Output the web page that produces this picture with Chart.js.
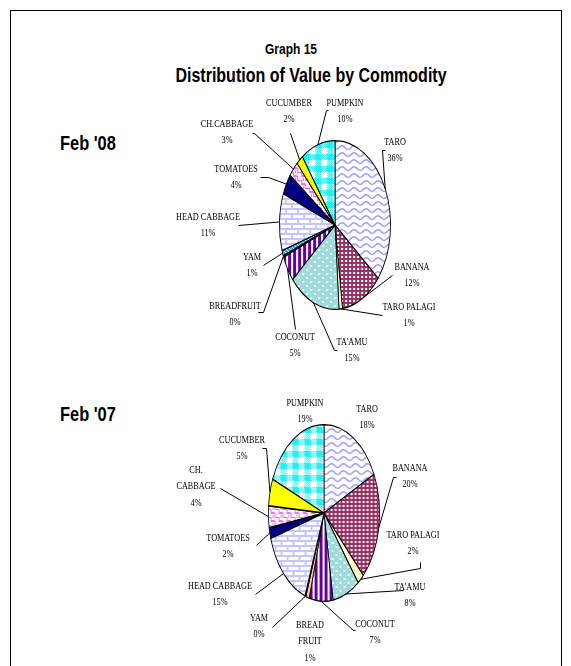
<!DOCTYPE html>
<html lang="en">
<head>
<meta charset="UTF-8"/>
<title>Graph 15 - Distribution of Value by Commodity</title>
<script src="https://cdn.jsdelivr.net/npm/chart.js"></script>
<style>
  html, body { margin: 0; padding: 0; background: #fff; }
  body { width: 571px; height: 666px; position: relative; overflow: hidden; font-family: 'Liberation Sans', Arial, sans-serif; }
  .frame { position: absolute; left: 10px; top: 10px; width: 550px; height: 720px; border: 1px solid #000; }
  .hd { position: absolute; font-weight: bold; white-space: nowrap; line-height: 1; color: #000; }
  .ctr { transform: translate(-50%, -50%) scaleX(0.8); }
  .lft { transform: translateY(-50%) scaleX(0.82); transform-origin: left center; }
  canvas { position: absolute; }
</style>
</head>
<body>
  <div class="frame"></div>
  <div class="hd ctr" style="left:291px; top:48px; font-size:15px;">Graph 15</div>
  <div class="hd ctr" style="left:311px; top:75px; font-size:20px;">Distribution of Value by Commodity</div>
  <div class="hd lft" style="left:60px; top:143px; font-size:20px;">Feb '08</div>
  <div class="hd lft" style="left:60px; top:414px; font-size:20px;">Feb '07</div>
  <canvas id="pie08" width="330" height="292" style="left:150px; top:88px;"></canvas>
  <canvas id="pie07" width="330" height="281" style="left:150px; top:385px;"></canvas>

<script>
// ---- data ----
const labels08 = ['TARO', 'BANANA', 'TARO PALAGI', "TA'AMU", 'COCONUT', 'BREADFRUIT', 'YAM',
                  'HEAD CABBAGE', 'TOMATOES', 'CH.CABBAGE', 'CUCUMBER', 'PUMPKIN'];
const values08 = [36, 12, 1, 15, 5, 0.3, 1, 11, 4, 3, 2, 10];

const labels07 = ['TARO', 'BANANA', 'TARO PALAGI', "TA'AMU", 'COCONUT', 'BREAD\nFRUIT', 'YAM',
                  'HEAD CABBAGE', 'TOMATOES', 'CH.\nCABBAGE', 'CUCUMBER', 'PUMPKIN'];
const values07 = [18, 20, 2, 8, 7, 1, 0.3, 15, 2, 4, 5, 19];

// ---- label placement, relative to pie centre: text = first line centre, line = leader points ----
const layout08 = [
  { text: [60, -83],   line: [[50, -75], [47, -75]] },
  { text: [77, 42],    line: [[57, 50]] },
  { text: [74, 82],    line: [[47, 90]] },
  { text: [17, 117],   line: [[2, 125], [-1, 125]] },
  { text: [-40, 112],  line: [[-40, 104]] },
  { text: [-100, 81],  line: [[-77, 87], [-72, 87]] },
  { text: [-83, 32],   line: [[-72, 40]] },
  { text: [-127, -8],  line: [[-97, 0]] },
  { text: [-99, -56],  line: [[-75, -48], [-67, -48]] },
  { text: [-108, -101], line: [[-83, -92], [-81, -92]] },
  { text: [-46, -122], line: [[-45, -92]] },
  { text: [10, -122],  line: [[-7, -115], [-9, -115]] }
];
const layout07 = [
  { text: [43, -104] },
  { text: [86, -45],   line: [[72, -36], [69, -36]] },
  { text: [89, 22],    line: [[96, 49], [96, 55]] },
  { text: [86, 74],    line: [[79, 77]] },
  { text: [51, 111],   line: [[31, 117], [29, 117]] },
  { text: [-14, 112] },
  { text: [-65, 105],  line: [[-52, 114]] },
  { text: [-104, 73],  line: [[-69, 81]] },
  { text: [-96, 25],   line: [[-68, 32]] },
  { text: [-128, -43], line: [[-104, -25]] },
  { text: [-82, -73],  line: [[-62, -65], [-58, -65]] },
  { text: [-19, -110] }
];

// ---- fill patterns ----
function tile(w, h, draw) {
  const c = document.createElement('canvas');
  c.width = w; c.height = h;
  draw(c.getContext('2d'), w, h);
  return c;
}
const tiles = [
  // taro: blue waves on white
  tile(12, 7, (g, w, h) => {
    g.fillStyle = '#fff'; g.fillRect(0, 0, w, h);
    g.strokeStyle = '#8c8cff'; g.lineWidth = 1.3;
    g.beginPath();
    for (let x = -1; x <= w + 1; x += 0.5) {
      const y = 3.5 + 1.8 * Math.sin(x / w * Math.PI * 2);
      x < -0.5 ? g.moveTo(x, y) : g.lineTo(x, y);
    }
    g.stroke();
  }),
  // banana: maroon with white squares
  tile(4, 4, (g) => {
    g.fillStyle = '#993366'; g.fillRect(0, 0, 4, 4);
    g.fillStyle = '#fff'; g.fillRect(0, 0, 2, 2);
  }),
  '#ffffcc',
  // ta'amu: light teal with white dots
  tile(8, 8, (g) => {
    g.fillStyle = '#9edcdc'; g.fillRect(0, 0, 8, 8);
    g.fillStyle = '#fff'; g.fillRect(1, 1, 2, 2); g.fillRect(5, 5, 2, 2);
  }),
  // coconut: purple with white vertical stripes
  tile(5, 2, (g) => {
    g.fillStyle = '#660099'; g.fillRect(0, 0, 5, 2);
    g.fillStyle = '#fff'; g.fillRect(3, 0, 2, 2);
  }),
  '#ffcc99',
  // yam
  tile(4, 4, (g) => {
    g.fillStyle = '#33a0d0'; g.fillRect(0, 0, 4, 4);
    g.fillStyle = '#fff'; g.fillRect(0, 0, 1, 1); g.fillRect(1, 1, 1, 1); g.fillRect(2, 2, 1, 1); g.fillRect(3, 3, 1, 1);
  }),
  // head cabbage: lavender bricks
  tile(12, 10, (g) => {
    g.fillStyle = '#fff'; g.fillRect(0, 0, 12, 10);
    g.fillStyle = '#c4c4ff';
    g.fillRect(0, 0, 12, 2); g.fillRect(0, 5, 12, 2);
    g.fillRect(0, 0, 2, 5); g.fillRect(6, 5, 2, 5);
  }),
  '#000080',
  // ch. cabbage: magenta weave on white
  tile(8, 8, (g) => {
    g.fillStyle = '#fff'; g.fillRect(0, 0, 8, 8);
    g.fillStyle = '#ff66ff';
    g.fillRect(0, 0, 5, 1); g.fillRect(4, 0, 1, 5); g.fillRect(4, 4, 4, 1);
    g.fillRect(0, 4, 1, 4); g.fillRect(0, 7, 4, 1); g.fillRect(2, 2, 1, 3);
  }),
  '#ffff00',
  // pumpkin: cyan plaid
  tile(12, 12, (g) => {
    g.fillStyle = '#22f0f0'; g.fillRect(0, 0, 12, 12);
    g.fillStyle = '#fff';
    g.fillRect(0, 0, 6, 6);
    for (let y = 0; y < 12; y++) for (let x = 0; x < 12; x++) {
      const band = (x >= 6) !== (y >= 6);
      if (band && (x + y) % 2 === 0) g.fillRect(x, y, 1, 1);
    }
  })
];

function fills(ctx, sx) {
  return tiles.map(t => {
    if (typeof t === 'string') return t;
    const p = ctx.createPattern(t, 'repeat');
    p.setTransform(new DOMMatrix().scale(1 / sx, 1));
    return p;
  });
}

// squeeze the pie into an ellipse and write the labels
const ellipsePie = {
  id: 'ellipsePie',
  beforeDatasetsDraw(chart, args, opts) {
    const a = chart.getDatasetMeta(0).data[0];
    const ctx = chart.ctx;
    ctx.save();
    ctx.translate(a.x, a.y);
    ctx.scale(opts.sx, 1);
    ctx.translate(-a.x, -a.y);
  },
  afterDatasetsDraw(chart) {
    chart.ctx.restore();
  },
  afterDraw(chart, args, opts) {
    const ctx = chart.ctx;
    const vals = chart.data.datasets[0].data;
    const total = vals.reduce((s, v) => s + v, 0);
    ctx.save();
    ctx.strokeStyle = '#000';
    ctx.fillStyle = '#000';
    ctx.lineWidth = 1;
    ctx.font = '10.5px "Liberation Serif", "Times New Roman", serif';
    ctx.textAlign = 'center';
    ctx.textBaseline = 'middle';
    chart.getDatasetMeta(0).data.forEach((arc, i) => {
      const p = arc.getProps(['x', 'y', 'startAngle', 'endAngle', 'outerRadius'], true);
      const L = opts.layout[i];
      if (L.line) {
        const mid = (p.startAngle + p.endAngle) / 2;
        ctx.beginPath();
        L.line.forEach(([dx, dy], k) => {
          const x = Math.round(p.x + dx) + 0.5, y = Math.round(p.y + dy) + 0.5;
          k ? ctx.lineTo(x, y) : ctx.moveTo(x, y);
        });
        ctx.lineTo(p.x + Math.cos(mid) * p.outerRadius * opts.sx, p.y + Math.sin(mid) * p.outerRadius);
        ctx.stroke();
      }
      const lines = chart.data.labels[i].split('\n');
      lines.push(Math.round(vals[i] / total * 100) + '%');
      lines.forEach((t, k) => {
        ctx.save();
        ctx.translate(p.x + L.text[0], p.y + L.text[1] + k * opts.lh);
        ctx.scale(0.78, 1);
        ctx.fillText(t, 0, 0);
        ctx.restore();
      });
    });
    ctx.restore();
  }
};

function makePie(id, labels, values, layout, cx, cy, ry, rx, lh) {
  const canvas = document.getElementById(id);
  const sx = rx / ry;
  return new Chart(canvas, {
    type: 'pie',
    data: {
      labels: labels,
      datasets: [{
        data: values,
        backgroundColor: fills(canvas.getContext('2d'), sx),
        borderColor: '#000',
        borderWidth: 1.3
      }]
    },
    options: {
      responsive: false,
      animation: false,
      events: [],
      layout: {
        padding: { left: cx - ry, top: cy - ry, right: canvas.width - cx - ry, bottom: canvas.height - cy - ry }
      },
      plugins: {
        legend: { display: false },
        tooltip: { enabled: false },
        ellipsePie: { sx: sx, layout: layout, lh: lh }
      }
    },
    plugins: [ellipsePie]
  });
}

makePie('pie08', labels08, values08, layout08, 185, 137, 85, 56, 16.5);
makePie('pie07', labels07, values07, layout07, 174, 128, 89, 56, 16.5);
</script>
</body>
</html>
